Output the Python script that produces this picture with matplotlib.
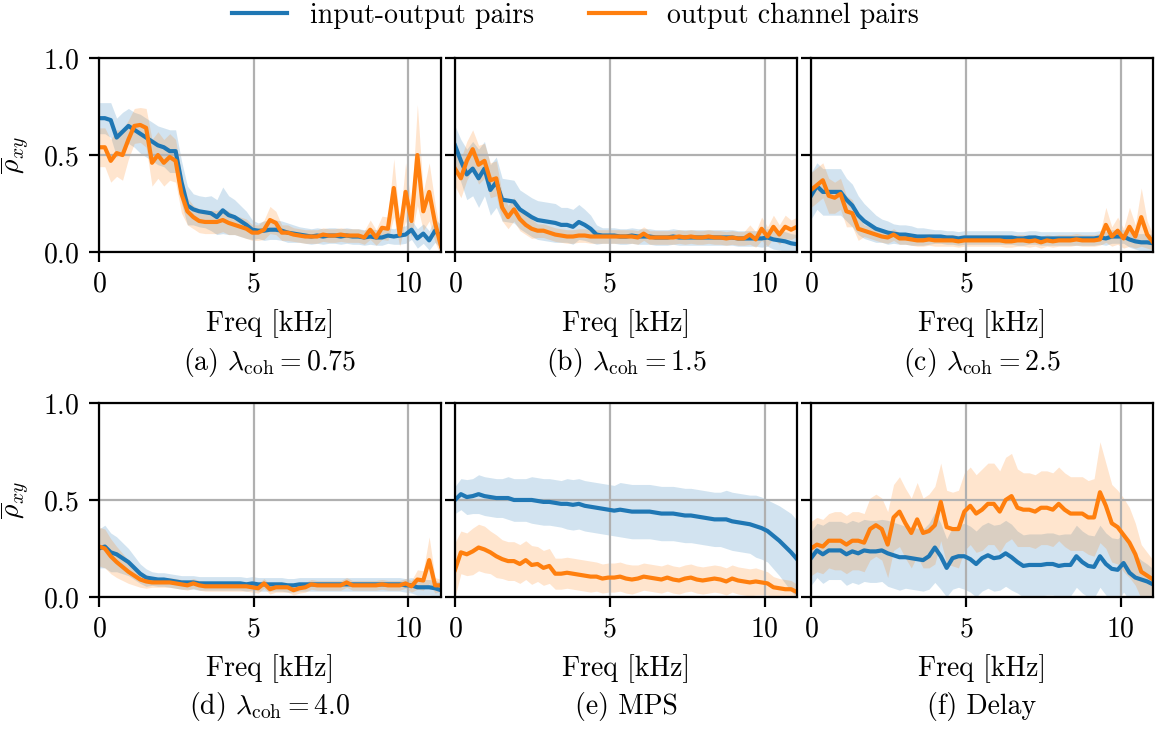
import numpy as np
import matplotlib
matplotlib.use('Agg')
import matplotlib.pyplot as plt

plt.rcParams['font.family'] = 'serif'
plt.rcParams['font.serif'] = ['cmr10']
plt.rcParams['mathtext.fontset'] = 'cm'
plt.rcParams['axes.formatter.use_mathtext'] = True
plt.rcParams['font.size'] = 10

# frequency bins (kHz)
freq = np.linspace(0, 11.05, 59)

captions = [r'(a) $\lambda_{\mathrm{coh}} = 0.75$', r'(b) $\lambda_{\mathrm{coh}} = 1.5$',
            r'(c) $\lambda_{\mathrm{coh}} = 2.5$', r'(d) $\lambda_{\mathrm{coh}} = 4.0$',
            '(e) MPS', '(f) Delay']
series_labels = ['input-output pairs', 'output channel pairs']

# (a) lambda_coh = 0.75
io_a = [0.69, 0.69, 0.68, 0.59, 0.62, 0.65, 0.63, 0.61, 0.59, 0.57, 0.55, 0.54, 0.52, 0.52,
        0.36, 0.24, 0.22, 0.21, 0.205, 0.20, 0.18, 0.215, 0.19, 0.18, 0.16, 0.14, 0.115, 0.11,
        0.11, 0.115, 0.115, 0.11, 0.10, 0.095, 0.09, 0.085, 0.08, 0.085, 0.08, 0.085, 0.085,
        0.08, 0.085, 0.08, 0.08, 0.075, 0.08, 0.075, 0.075, 0.085, 0.08, 0.085, 0.09, 0.115,
        0.07, 0.095, 0.06, 0.11, 0.08]
oc_a = [0.54, 0.54, 0.47, 0.51, 0.50, 0.58, 0.65, 0.655, 0.64, 0.46, 0.50, 0.46, 0.49, 0.47,
        0.30, 0.21, 0.18, 0.16, 0.155, 0.155, 0.155, 0.165, 0.15, 0.14, 0.13, 0.12, 0.10, 0.10,
        0.115, 0.165, 0.15, 0.10, 0.10, 0.09, 0.085, 0.08, 0.08, 0.08, 0.09, 0.085, 0.085,
        0.09, 0.085, 0.085, 0.085, 0.075, 0.115, 0.075, 0.125, 0.12, 0.33, 0.09, 0.31, 0.16,
        0.50, 0.21, 0.31, 0.15, 0.03]
io_a_std = [0.08, 0.08, 0.09, 0.10, 0.10, 0.09, 0.09, 0.10, 0.10, 0.10, 0.10, 0.10, 0.11, 0.11,
            0.11, 0.10, 0.08, 0.08, 0.08, 0.09, 0.09, 0.12, 0.10, 0.09, 0.08, 0.07, 0.05, 0.04,
            0.05, 0.05, 0.05, 0.05, 0.05, 0.045, 0.04, 0.04, 0.04, 0.04, 0.04, 0.04, 0.04,
            0.04, 0.04, 0.04, 0.04, 0.04, 0.04, 0.04, 0.04, 0.04, 0.04, 0.045, 0.045, 0.05,
            0.05, 0.05, 0.05, 0.06, 0.06]
oc_a_std = [0.10, 0.10, 0.11, 0.12, 0.13, 0.10, 0.09, 0.09, 0.10, 0.12, 0.12, 0.12, 0.12, 0.11,
            0.10, 0.07, 0.06, 0.06, 0.06, 0.06, 0.06, 0.06, 0.06, 0.05, 0.05, 0.05, 0.04, 0.04,
            0.05, 0.07, 0.06, 0.04, 0.04, 0.035, 0.035, 0.035, 0.035, 0.035, 0.035, 0.035, 0.035,
            0.035, 0.035, 0.035, 0.035, 0.035, 0.05, 0.04, 0.06, 0.06, 0.15, 0.06, 0.15, 0.08,
            0.26, 0.10, 0.15, 0.10, 0.05]

# (b) lambda_coh = 1.5
io_b = [0.55, 0.47, 0.40, 0.43, 0.38, 0.43, 0.32, 0.36, 0.27, 0.265, 0.26, 0.22, 0.20, 0.18,
        0.165, 0.16, 0.155, 0.15, 0.14, 0.14, 0.13, 0.155, 0.14, 0.12, 0.09, 0.085, 0.085,
        0.085, 0.08, 0.08, 0.085, 0.08, 0.08, 0.08, 0.075, 0.075, 0.075, 0.08, 0.075, 0.075,
        0.075, 0.075, 0.075, 0.075, 0.075, 0.075, 0.075, 0.075, 0.07, 0.07, 0.07, 0.07, 0.07,
        0.075, 0.065, 0.06, 0.055, 0.045, 0.04]
oc_b = [0.43, 0.38, 0.47, 0.53, 0.45, 0.47, 0.37, 0.38, 0.23, 0.18, 0.22, 0.17, 0.14, 0.12,
        0.11, 0.11, 0.10, 0.09, 0.085, 0.08, 0.08, 0.085, 0.085, 0.08, 0.08, 0.08, 0.08, 0.08,
        0.08, 0.08, 0.08, 0.075, 0.095, 0.075, 0.075, 0.075, 0.075, 0.075, 0.08, 0.075, 0.08,
        0.075, 0.075, 0.08, 0.075, 0.075, 0.07, 0.075, 0.07, 0.07, 0.09, 0.065, 0.12, 0.08,
        0.13, 0.09, 0.13, 0.115, 0.13]
io_b_std = [0.10, 0.11, 0.13, 0.14, 0.15, 0.14, 0.13, 0.13,
            0.11, 0.11, 0.11, 0.10, 0.10, 0.10, 0.10, 0.10, 0.10, 0.10, 0.09, 0.09, 0.09, 0.09,
            0.08, 0.07, 0.05] + [0.04] * 25 + [0.04, 0.04, 0.045, 0.045, 0.05, 0.05, 0.05, 0.05, 0.05]
oc_b_std = [0.09, 0.10, 0.10, 0.10, 0.10, 0.09, 0.09, 0.09, 0.07, 0.06, 0.06, 0.06, 0.05, 0.05] \
    + [0.035] * 36 + [0.05, 0.04, 0.06, 0.05, 0.06, 0.05, 0.06, 0.05, 0.05]

# (c) lambda_coh = 2.5
io_c = [0.29, 0.34, 0.31, 0.31, 0.31, 0.31, 0.27, 0.24, 0.19, 0.16, 0.14, 0.12, 0.11, 0.10,
        0.095, 0.09, 0.09, 0.085, 0.08, 0.08, 0.08, 0.08, 0.08, 0.075, 0.075, 0.07, 0.075,
        0.075, 0.075, 0.075, 0.075, 0.075, 0.075, 0.075, 0.075, 0.07, 0.07, 0.075, 0.075,
        0.07, 0.07, 0.07, 0.07, 0.07, 0.07, 0.07, 0.07, 0.07, 0.07, 0.075, 0.07, 0.08, 0.08,
        0.08, 0.065, 0.055, 0.05, 0.05, 0.045]
oc_c = [0.32, 0.345, 0.37, 0.29, 0.28, 0.30, 0.21, 0.20, 0.12, 0.11, 0.10, 0.09, 0.08, 0.075,
        0.09, 0.07, 0.07, 0.065, 0.06, 0.06, 0.065, 0.06, 0.06, 0.06, 0.06, 0.055, 0.06, 0.06,
        0.06, 0.06, 0.06, 0.06, 0.06, 0.055, 0.055, 0.06, 0.06, 0.055, 0.06, 0.05, 0.06,
        0.055, 0.06, 0.06, 0.06, 0.065, 0.06, 0.06, 0.06, 0.065, 0.14, 0.08, 0.11, 0.07, 0.13,
        0.08, 0.18, 0.09, 0.05]
io_c_std = [0.12, 0.12, 0.12, 0.12, 0.12, 0.12, 0.11, 0.11, 0.10, 0.09, 0.08,
            0.07, 0.06, 0.06, 0.05, 0.05, 0.05, 0.05, 0.045, 0.045, 0.04] \
    + [0.035] * 33 + [0.04, 0.04, 0.045, 0.045, 0.045]
oc_c_std = [0.09, 0.09, 0.09, 0.09, 0.08, 0.08, 0.08, 0.07, 0.06] + [0.03] * 41 \
    + [0.09, 0.05, 0.07, 0.05, 0.10, 0.06, 0.15, 0.07, 0.04]

# (d) lambda_coh = 4.0
io_d = [0.25, 0.26, 0.23, 0.22, 0.20, 0.18, 0.15, 0.12, 0.10, 0.095, 0.09, 0.09, 0.085, 0.08,
        0.075, 0.075, 0.075, 0.07, 0.07, 0.07, 0.07, 0.07, 0.07, 0.07, 0.07, 0.065, 0.07,
        0.065, 0.065, 0.065, 0.065, 0.065, 0.06, 0.06, 0.065, 0.065, 0.065, 0.065, 0.065,
        0.065, 0.065, 0.065, 0.065, 0.065, 0.065, 0.065, 0.065, 0.065, 0.065, 0.065, 0.065,
        0.065, 0.06, 0.06, 0.05, 0.05, 0.05, 0.045, 0.035]
oc_d = [0.26, 0.25, 0.21, 0.18, 0.155, 0.13, 0.11, 0.09, 0.08, 0.075, 0.075, 0.075, 0.075,
        0.07, 0.065, 0.06, 0.07, 0.06, 0.055, 0.055, 0.055, 0.055, 0.055, 0.055, 0.055, 0.055,
        0.05, 0.045, 0.07, 0.04, 0.05, 0.05, 0.05, 0.035, 0.045, 0.05, 0.065, 0.06, 0.06, 0.06,
        0.06, 0.06, 0.075, 0.06, 0.06, 0.06, 0.06, 0.06, 0.065, 0.06, 0.06, 0.06, 0.07, 0.055,
        0.09, 0.085, 0.19, 0.06, 0.06]
io_d_std = [0.10, 0.11, 0.10, 0.09, 0.08, 0.07, 0.06, 0.05, 0.045] + [0.035] * 44 + [0.04] * 6
oc_d_std = [0.10, 0.10, 0.09, 0.08, 0.07, 0.06, 0.05, 0.04, 0.035] + [0.025] * 44 \
    + [0.03, 0.05, 0.05, 0.12, 0.04, 0.03]

# (e) MPS
io_e = [0.50, 0.53, 0.515, 0.52, 0.53, 0.52, 0.515, 0.51, 0.51, 0.51, 0.50, 0.50, 0.50, 0.50,
        0.495, 0.49, 0.49, 0.485, 0.48, 0.48, 0.475, 0.48, 0.47, 0.465, 0.46, 0.455, 0.45,
        0.445, 0.45, 0.445, 0.44, 0.44, 0.44, 0.44, 0.435, 0.43, 0.43, 0.43, 0.425, 0.42, 0.42,
        0.415, 0.41, 0.405, 0.40, 0.40, 0.40, 0.39, 0.385, 0.38, 0.375, 0.365, 0.355, 0.34,
        0.315, 0.29, 0.26, 0.23, 0.195]
oc_e = [0.14, 0.23, 0.22, 0.235, 0.255, 0.245, 0.23, 0.21, 0.195, 0.185, 0.185, 0.17, 0.19,
        0.165, 0.17, 0.15, 0.16, 0.12, 0.12, 0.125, 0.12, 0.115, 0.11, 0.105, 0.105, 0.095,
        0.10, 0.10, 0.105, 0.095, 0.09, 0.095, 0.105, 0.10, 0.095, 0.09, 0.10, 0.09, 0.085,
        0.095, 0.10, 0.09, 0.085, 0.09, 0.095, 0.09, 0.08, 0.095, 0.085, 0.08, 0.075, 0.08,
        0.075, 0.07, 0.05, 0.045, 0.04, 0.04, 0.025]
io_e_std = [0.07, 0.08, 0.09, 0.09, 0.10, 0.10, 0.10, 0.10, 0.10, 0.11, 0.11,
            0.11, 0.11, 0.12, 0.12, 0.12, 0.12, 0.12, 0.12, 0.13, 0.13, 0.13, 0.13, 0.13, 0.13,
            0.13, 0.13, 0.13] + [0.14] * 17 \
    + [0.14, 0.15, 0.15, 0.15, 0.15, 0.15, 0.16, 0.16, 0.16, 0.17, 0.18, 0.19, 0.20, 0.20]
oc_e_std = [0.14, 0.11, 0.11, 0.12, 0.12, 0.12, 0.11, 0.11, 0.10, 0.10, 0.10,
            0.10, 0.10, 0.10, 0.09, 0.09, 0.09, 0.08, 0.08, 0.08, 0.08, 0.08, 0.08, 0.08, 0.075,
            0.075, 0.075, 0.075, 0.075, 0.075, 0.075] + [0.07] * 20 \
    + [0.07, 0.065, 0.06, 0.055, 0.05, 0.05, 0.045, 0.04]

# (f) Delay
io_f = [0.20, 0.24, 0.22, 0.24, 0.24, 0.24, 0.22, 0.235, 0.225, 0.24, 0.235, 0.235, 0.24,
        0.225, 0.215, 0.205, 0.205, 0.20, 0.195, 0.19, 0.21, 0.255, 0.21, 0.15, 0.20, 0.21,
        0.21, 0.195, 0.17, 0.20, 0.215, 0.20, 0.205, 0.225, 0.205, 0.18, 0.16, 0.165, 0.165,
        0.165, 0.17, 0.17, 0.16, 0.165, 0.165, 0.21, 0.18, 0.16, 0.155, 0.21, 0.17, 0.145,
        0.14, 0.175, 0.125, 0.10, 0.09, 0.08, 0.065]
oc_f = [0.25, 0.27, 0.26, 0.29, 0.29, 0.29, 0.27, 0.29, 0.29, 0.28, 0.35, 0.37, 0.35, 0.27,
        0.41, 0.44, 0.38, 0.33, 0.40, 0.33, 0.34, 0.37, 0.49, 0.36, 0.35, 0.35, 0.44, 0.47,
        0.43, 0.45, 0.48, 0.48, 0.44, 0.50, 0.52, 0.46, 0.45, 0.45, 0.44, 0.46, 0.46, 0.45,
        0.48, 0.45, 0.43, 0.43, 0.43, 0.41, 0.41, 0.54, 0.47, 0.38, 0.36, 0.32, 0.28, 0.22,
        0.13, 0.11, 0.09]
io_f_std = [0.14, 0.14, 0.15, 0.15, 0.15, 0.15, 0.16, 0.16, 0.16, 0.16, 0.16, 0.16, 0.16, 0.17,
            0.17, 0.17, 0.16, 0.16, 0.16, 0.16, 0.17, 0.18, 0.17, 0.15, 0.16, 0.16, 0.17, 0.17,
            0.17, 0.17, 0.17, 0.17, 0.17, 0.17, 0.17, 0.16, 0.16, 0.16, 0.16, 0.16, 0.16, 0.16,
            0.16, 0.16, 0.16, 0.16, 0.16, 0.16, 0.16, 0.16, 0.16, 0.16, 0.16, 0.15, 0.14, 0.12,
            0.10, 0.09, 0.08]
oc_f_std = [0.14, 0.14, 0.14, 0.14, 0.15, 0.15, 0.15, 0.15, 0.15, 0.15, 0.16, 0.16, 0.16, 0.17,
            0.17, 0.18, 0.18, 0.18, 0.19, 0.18, 0.19, 0.20, 0.20, 0.19, 0.19, 0.20, 0.20, 0.20,
            0.20, 0.21, 0.21, 0.21, 0.21, 0.22, 0.22, 0.20, 0.19, 0.19, 0.19, 0.19, 0.19, 0.19,
            0.19, 0.19, 0.19, 0.19, 0.19, 0.19, 0.20, 0.26, 0.22, 0.20, 0.19, 0.19, 0.18, 0.16,
            0.14, 0.12, 0.10]

panels = [
    (io_a, io_a_std, oc_a, oc_a_std),
    (io_b, io_b_std, oc_b, oc_b_std),
    (io_c, io_c_std, oc_c, oc_c_std),
    (io_d, io_d_std, oc_d, oc_d_std),
    (io_e, io_e_std, oc_e, oc_e_std),
    (io_f, io_f_std, oc_f, oc_f_std),
]

fig, axes = plt.subplots(2, 3, figsize=(5.8, 3.645), dpi=200, sharey='row')
fig.subplots_adjust(left=0.0853, right=0.994, bottom=0.1811, top=0.9204,
                    wspace=0.041, hspace=0.778)

colors = ['tab:blue', 'tab:orange']
for k, ax in enumerate(axes.flat):
    io, io_std, oc, oc_std = panels[k]
    for mean, std, c, lab in [(io, io_std, colors[0], series_labels[0]),
                              (oc, oc_std, colors[1], series_labels[1])]:
        mean = np.array(mean)
        std = np.array(std)
        ax.fill_between(freq, mean - std, mean + std, color=c, alpha=0.2, linewidth=0)
        ax.plot(freq, mean, color=c, lw=1.5, label=lab)
    ax.set_xlim(0, 11.05)
    ax.set_ylim(0, 1)
    ax.set_xticks([0, 5, 10])
    ax.set_yticks([0, 0.5, 1.0])
    ax.grid(True)
    ax.set_xlabel('Freq [kHz]')
    ax.text(0.5, -0.567, captions[k], transform=ax.transAxes, ha='center', va='center')
    if k % 3 == 0:
        ax.set_ylabel(r'$\overline{\rho}_{xy}$')

handles, labels = axes[0, 0].get_legend_handles_labels()
fig.legend(handles, labels, loc='upper center', ncol=2, frameon=False,
           bbox_to_anchor=(0.496, 1.031))

plt.savefig('out.png', dpi=200)
